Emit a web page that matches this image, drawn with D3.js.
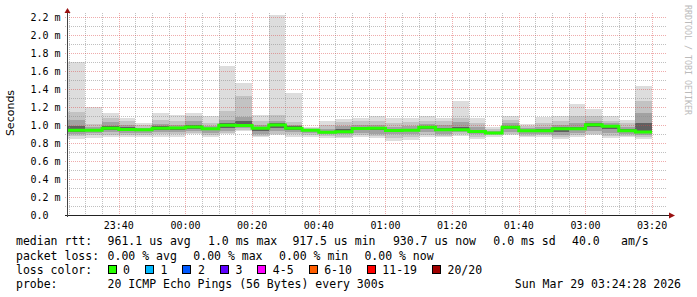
<!DOCTYPE html>
<html><head><meta charset="utf-8">
<script src="https://cdn.jsdelivr.net/npm/d3@7"></script>
<style>body{margin:0;background:#fff} svg{display:block}</style>
</head><body>
<svg id="c" width="697" height="297"></svg>
<script>
// ---- data (RTT in ms) ----
const windowStartUtc = "2026-03-28T22:24:28Z";
const windowEndUtc   = "2026-03-29T01:24:28Z";
// end of each 5-minute bucket, UTC (local CET before 01:00Z, CEST after)
const barEndUtc = ["22:30","22:35","22:40","22:45","22:50","22:55","23:00","23:05","23:10","23:15","23:20","23:25",
  "23:30","23:35","23:40","23:45","23:50","23:55","00:00","00:05","00:10","00:15","00:20","00:25",
  "00:30","00:35","00:40","00:45","00:50","00:55","01:00","01:05","01:10","01:15","01:20"];
const rttMin = [.845,.858,.862,.862,.868,.87,.87,.895,.87,.896,.93,.863,.889,.87,.87,.856,.852,.863,.855,.826,.835,.87,.863,.882,.85,.87,.885,.863,.87,.85,.87,.885,.856,.863,.85];
const rttP10 = [.875,.885,.89,.89,.89,.895,.895,.91,.885,.91,.95,.88,.905,.895,.89,.875,.87,.885,.88,.86,.87,.89,.88,.9,.87,.885,.9,.88,.885,.87,.89,.905,.88,.88,.87];
const rttP25 = [.905,.915,.92,.915,.915,.925,.92,.935,.91,.935,.97,.9,.93,.925,.91,.895,.895,.91,.905,.9,.905,.92,.905,.92,.895,.895,.925,.9,.905,.89,.91,.935,.91,.9,.89];
const rttP40 = [.925,.93,.945,.935,.935,.95,.945,.96,.94,.97,.985,.935,.965,.945,.93,.91,.912,.94,.94,.925,.928,.955,.93,.935,.915,.905,.955,.925,.925,.92,.94,.98,.955,.925,.91];
const rttMedian = [.942,.943,.965,.95,.948,.965,.966,.978,.957,.998,.995,.965,1.0,.963,.941,.92,.924,.96,.963,.939,.942,.974,.946,.947,.928,.911,.974,.937,.936,.958,.958,1.002,.985,.937,.922];
const rttP60 = [.985,.955,.985,.975,.955,.985,.98,1.0,.965,1.02,1.04,.98,1.02,.985,.95,.935,.955,.975,.98,.955,.96,.99,.97,.98,.945,.92,.99,.95,.955,.975,.98,1.02,1.0,.955,1.02];
const rttP75 = [1.06,.975,1.03,1.0,.97,1.01,1.0,1.05,.985,1.055,1.09,1.0,1.05,1.0,.96,.96,.985,1.0,1.0,.98,.99,1.01,1.0,1.03,.975,.935,1.02,.97,.98,1.0,1.02,1.05,1.02,.98,1.13];
const rttP90 = [1.14,1.01,1.08,1.05,1.0,1.06,1.04,1.1,1.02,1.16,1.32,1.04,1.11,1.03,.97,1.0,1.03,1.04,1.04,1.02,1.03,1.05,1.04,1.08,1.02,.955,1.06,.99,1.02,1.04,1.1,1.1,1.05,1.02,1.27];
const rttMax = [1.70,1.197,1.137,1.083,1.024,1.137,1.111,1.137,1.096,1.659,1.47,1.111,2.226,1.359,.977,1.048,1.07,1.083,1.105,1.08,1.08,1.098,1.083,1.27,1.08,.975,1.098,1.007,1.093,1.1,1.233,1.178,1.096,1.056,1.433];

const tickUtc = ["22:40","23:00","23:20","23:40","00:00","00:20","00:40","01:00","01:20"];
const tickLabels = ["23:40","00:00","00:20","00:40","01:00","01:20","01:40","03:00","03:20"];
const yLabelValues = [0,0.2,0.4,0.6,0.8,1.0,1.2,1.4,1.6,1.8,2.0,2.2];

const legendRtt = ["961.1 us avg","1.0 ms max","917.5 us min","930.7 us now","0.0 ms sd","40.0","am/s"];
const legendLoss = ["0.00 % avg","0.00 % max","0.00 % min","0.00 % now"];
const lossLabels = ["0","1","2","3","4-5","6-10","11-19","20/20"];
const lossColors = ["#26ff00","#00b8ff","#0059ff","#5e00ff","#ff00ff","#ff5e00","#ff0000","#a00000"];
const probeText = "20 ICMP Echo Pings (56 Bytes) every 300s";
const stampText = "Sun Mar 29 03:24:28 2026";

// ---- drawing ----
const svg = d3.select("#c");
const L = 67, R = 667, T = 13, B = 215;
const t0 = new Date(windowStartUtc), t1 = new Date(windowEndUtc);
const x = d3.scaleUtc().domain([t0, t1]).range([L, R]);
const y = d3.scaleLinear().domain([0, (B - T) / 90]).range([B, T]);
const toDate = s => { const h = +s.slice(0,2); return new Date((h >= 12 ? "2026-03-28T" : "2026-03-29T") + s + ":00Z"); };
const ends = barEndUtc.map(toDate);
const starts = ends.map((e, i) => i === 0 ? t0 : new Date(+e - 300000));

// smoke bands
const bands = [
  [rttMin, rttMax, "#dddddd"],
  [rttP10, rttP90, "#c3c3c3"],
  [rttP25, rttP75, "#a2a2a2"],
  [rttP40, rttP60, "#606060"]
];
const gSmoke = svg.append("g");
bands.forEach(([lo, hi, col]) => {
  gSmoke.selectAll(null).data(ends).enter().append("rect")
    .attr("x", (d, i) => x(starts[i]))
    .attr("width", (d, i) => x(d) - x(starts[i]))
    .attr("y", (d, i) => y(hi[i]))
    .attr("height", (d, i) => y(lo[i]) - y(hi[i]))
    .attr("fill", col).attr("shape-rendering", "crispEdges");
});

// grid
const gGrid = svg.append("g").attr("shape-rendering", "crispEdges");
const minorT = d3.utcMinute.every(5).range(t0, t1);
minorT.forEach(t => {
  const major = t.getUTCMinutes() % 20 === 0;
  gGrid.append("line").attr("x1", Math.round(x(t)) + 0.5).attr("x2", Math.round(x(t)) + 0.5)
    .attr("y1", T).attr("y2", B + 2)
    .attr("stroke", major ? "rgba(220,70,70,0.45)" : "rgba(140,140,140,0.55)")
    .attr("stroke-dasharray", "1,1");
});
d3.range(1, 23).forEach(k => {
  const v = k / 10;
  const major = k % 2 === 0;
  gGrid.append("line").attr("x1", L - 2).attr("x2", R)
    .attr("y1", Math.round(y(v)) + 0.5).attr("y2", Math.round(y(v)) + 0.5)
    .attr("stroke", major ? "rgba(220,70,70,0.45)" : "rgba(140,140,140,0.55)")
    .attr("stroke-dasharray", "1,1");
});

// median line
const pts = [{t: starts[0], v: rttMedian[0]}].concat(ends.map((e, i) => ({t: e, v: rttMedian[i]})));
svg.append("path").datum(pts)
  .attr("d", d3.line().x(d => x(d.t)).y(d => y(d.v)).curve(d3.curveStepBefore))
  .attr("fill", "none").attr("stroke", lossColors[0]).attr("stroke-width", 3);

// axes
svg.append("line").attr("x1", L - 2).attr("x2", 670).attr("y1", B + 0.5).attr("y2", B + 0.5)
  .attr("stroke", "#222").attr("shape-rendering", "crispEdges");
svg.append("line").attr("x1", L + 0.5).attr("x2", L + 0.5).attr("y1", B + 2).attr("y2", 10)
  .attr("stroke", "#444").attr("shape-rendering", "crispEdges");
svg.append("path").attr("d", `M${L+0.5},8 L${L-2.5},13 L${L+3.5},13 Z`).attr("fill", "#991111");
svg.append("path").attr("d", `M675,${B+0.5} L669,${B-2.5} L669,${B+3.5} Z`).attr("fill", "#991111");

// y labels
const mono = "'DejaVu Sans Mono', monospace";
svg.append("g").selectAll("text").data(yLabelValues).enter().append("text")
  .attr("x", 30.5).attr("y", d => y(d) + 3.6)
  .attr("font-family", mono).attr("font-size", "10px").attr("fill", "#000")
  .text(d => d === 0 ? "0.0" : d3.format(".1f")(d) + " m");

// x labels
svg.append("g").selectAll("text").data(tickUtc).enter().append("text")
  .attr("x", d => x(toDate(d))).attr("y", 229)
  .attr("text-anchor", "middle")
  .attr("font-family", mono).attr("font-size", "10px").attr("fill", "#000")
  .text((d, i) => tickLabels[i]);

// y title
svg.append("text").attr("transform", "translate(14,113) rotate(-90)")
  .attr("text-anchor", "middle").attr("font-family", "'DejaVu Sans', sans-serif")
  .attr("font-size", "11px").attr("fill", "#000").text("Seconds");

// watermark
svg.append("text").attr("transform", "translate(685,5) rotate(90)")
  .attr("font-family", mono).attr("font-size", "8.3px").attr("fill", "#bbbbbb")
  .text("RRDTOOL / TOBI OETIKER");

// legend
const lf = "11.5px";
const leg = svg.append("g").attr("font-family", mono).attr("font-size", lf).attr("fill", "#000");
const put = (tx, xx, yy, anchor) => leg.append("text").attr("x", xx).attr("y", yy)
  .attr("text-anchor", anchor || "start").attr("xml:space", "preserve").text(tx);
const y1 = 245, y2 = 259.5, y3 = 273.8, y4 = 288;
put("median rtt:", 16, y1);
[107.6, 208, 292.4, 392.9, 493.3, 572, 621].forEach((xx, i) => put(legendRtt[i], xx, y1));
put("packet loss:", 16, y2);
[107.6, 193.3, 279, 364.4].forEach((xx, i) => put(legendLoss[i], xx, y2));
put("loss color:", 16, y3);
let cx = 107.6;
lossLabels.forEach((lab, i) => {
  leg.append("rect").attr("x", Math.round(cx) + 0.5).attr("y", 265.5).attr("width", 8).attr("height", 8)
    .attr("fill", lossColors[i]).attr("stroke", "#000").attr("stroke-width", 1);
  const t = put(lab, cx + 15.5, y3);
  cx = cx + 15.5 + t.node().getComputedTextLength() + 15;
});
put("probe:", 16, y4);
put(probeText, 107.6, y4);
put(stampText, 681, y4, "end");
</script>
</body></html>
